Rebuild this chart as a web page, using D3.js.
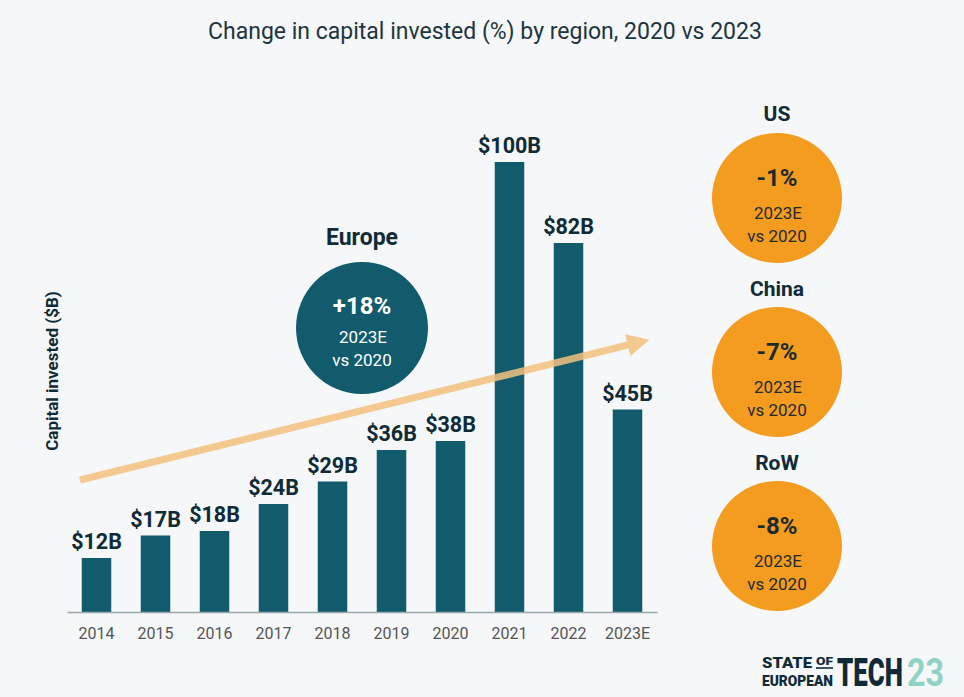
<!DOCTYPE html>
<html><head><meta charset="utf-8">
<script src="https://cdn.jsdelivr.net/npm/d3@7"></script>
<style>body{margin:0;background:#f5f7f9;}svg{display:block;font-family:Roboto,"Open Sans",sans-serif;}</style>
</head><body><svg id="c" width="964" height="697"></svg>
<script>
const years = ["2014","2015","2016","2017","2018","2019","2020","2021","2022","2023E"];
const invested = [12,17,18,24,29,36,38,100,82,45];
const valueLabels = ["$12B","$17B","$18B","$24B","$29B","$36B","$38B","$100B","$82B","$45B"];
const regions = ["US","China","RoW"];
const regionChange = ["-1%","-7%","-8%"];
const europeChange = "+18%";

const svg = d3.select("#c");
svg.append("rect").attr("width",964).attr("height",697).attr("fill","#f5f7f9");
const dark = "#102a36", barColor = "#125b6d";

svg.append("text").attr("x",485).attr("y",39).attr("text-anchor","middle")
  .attr("font-size",23).attr("fill","#1d3540").text("Change in capital invested (%) by region, 2020 vs 2023");

const x = d3.scaleBand().domain(years).range([67,657]).paddingInner(0.5).paddingOuter(0.25);
const y = d3.scaleLinear().domain([0,100]).range([612,162]);

const g = svg.append("g");
g.selectAll("rect.bar").data(years).join("rect").attr("class","bar")
  .attr("x",d=>x(d)).attr("width",x.bandwidth())
  .attr("y",(d,i)=>y(invested[i])).attr("height",(d,i)=>y(0)-y(invested[i]))
  .attr("fill",barColor);

g.selectAll("text.val").data(years).join("text").attr("class","val")
  .attr("x",d=>x(d)+x.bandwidth()/2).attr("y",(d,i)=>y(invested[i])-9)
  .attr("text-anchor","middle").attr("font-size",21.5).attr("font-weight",700).attr("fill",dark)
  .text((d,i)=>valueLabels[i]);

const axis = svg.append("g").attr("transform","translate(0,612)")
  .call(d3.axisBottom(x).tickSize(0).tickPadding(16));
axis.select(".domain").attr("stroke","#9aa7ad").attr("stroke-width",1.5);
axis.selectAll("text").attr("font-size",16).attr("fill","#555").attr("font-family","Roboto,sans-serif");

svg.append("text").attr("transform","translate(58,371) rotate(-90)").attr("text-anchor","middle")
  .attr("font-size",17).attr("font-weight",700).attr("fill",dark).text("Capital invested ($B)");

// trend arrow
svg.append("defs").append("marker").attr("id","ah").attr("viewBox","0 0 10 10")
  .attr("refX",2).attr("refY",5).attr("markerWidth",3.2).attr("markerHeight",3.2).attr("orient","auto")
  .append("path").attr("d","M0,0 L10,5 L0,10 Z").attr("fill","#f3c27e");
svg.append("line").attr("x1",80).attr("y1",480).attr("x2",632).attr("y2",344)
  .attr("stroke","#f3c27e").attr("stroke-width",7).attr("opacity",0.85).attr("marker-end","url(#ah)");

// Europe
svg.append("text").attr("x",362).attr("y",245).attr("text-anchor","middle").attr("font-size",23)
  .attr("font-weight",700).attr("fill",dark).text("Europe");
svg.append("circle").attr("cx",362).attr("cy",328).attr("r",66).attr("fill",barColor);
svg.append("text").attr("x",362).attr("y",314).attr("text-anchor","middle").attr("font-size",24)
  .attr("font-weight",700).attr("fill","#fff").text(europeChange);
svg.append("text").attr("x",363).attr("y",343).attr("text-anchor","middle").attr("font-size",17).attr("fill","#fff").text("2023E");
svg.append("text").attr("x",362).attr("y",366).attr("text-anchor","middle").attr("font-size",17).attr("fill","#fff").text("vs 2020");

// regions
const cy = d3.scalePoint().domain(regions).range([198,546]);
const ly = d3.scalePoint().domain(regions).range([121,470]);
const rg = svg.selectAll("g.reg").data(regions).join("g").attr("class","reg")
  .attr("transform",d=>`translate(777,${cy(d)})`);
rg.append("circle").attr("r",65).attr("fill","#f39c1f");
rg.append("text").attr("y",-12).attr("text-anchor","middle").attr("font-size",24).attr("font-weight",700).attr("fill","#1f2a2e").text((d,i)=>regionChange[i]);
rg.append("text").attr("x",1).attr("y",21).attr("text-anchor","middle").attr("font-size",17).attr("fill","#1f2a2e").text("2023E");
rg.append("text").attr("y",44).attr("text-anchor","middle").attr("font-size",17).attr("fill","#1f2a2e").text("vs 2020");
svg.selectAll("text.rl").data(regions).join("text").attr("class","rl")
  .attr("x",777).attr("y",d=>ly(d)).attr("text-anchor","middle").attr("font-size",21)
  .attr("font-weight",700).attr("fill",dark).text(d=>d);

// logo
const lg = svg.append("g").attr("font-family","Roboto,sans-serif").attr("font-weight",900).attr("fill","#0f2a36");
lg.append("text").attr("x",762).attr("y",668).attr("font-size",14).attr("textLength",50).attr("lengthAdjust","spacingAndGlyphs").text("STATE");
lg.append("text").attr("x",816).attr("y",665).attr("font-size",10).attr("textLength",17).attr("lengthAdjust","spacingAndGlyphs").text("OF");
lg.append("line").attr("x1",816).attr("x2",833).attr("y1",668).attr("y2",668).attr("stroke","#0f2a36").attr("stroke-width",1.6);
lg.append("text").attr("x",762).attr("y",686).attr("font-size",14).attr("textLength",71).attr("lengthAdjust","spacingAndGlyphs").text("EUROPEAN");
lg.append("g").attr("transform","translate(837,686) scale(0.68,1)")
  .append("text").attr("font-size",38).text("TECH");
lg.append("g").attr("transform","translate(907,686) scale(0.85,1)")
  .append("text").attr("font-size",38).attr("font-weight",700).attr("fill","#8fd3c6").text("23");
</script></body></html>
